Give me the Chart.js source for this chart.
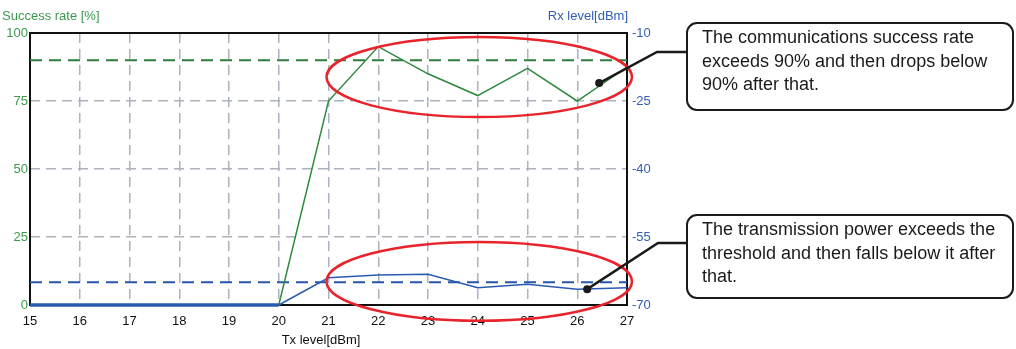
<!DOCTYPE html>
<html><head><meta charset="utf-8">
<script src="https://cdn.jsdelivr.net/npm/chart.js@4"></script>
<style>html,body{margin:0;padding:0;background:#fff;}#wrap{width:1016px;height:349px;}</style>
</head><body><div id="wrap"><canvas id="c" width="1016" height="349"></canvas></div>
<script>
const txLevels = [15,16,17,18,19,20,21,22,23,24,25,26,27];
const successRate = [0,0,0,0,0,0,75,95,85,77,87,75,87.5];
const rxLevel = [-70,-70,-70,-70,-70,-70,-64,-63.4,-63.2,-66.2,-65.4,-66.5,-66.2];
const successTicks = [0,25,50,75,100];
const rxTicks = [-70,-55,-40,-25,-10];
const successThreshold = 90;
const rxThreshold = -65;
const notes = [
  {text:["The communications success rate","exceeds 90% and then drops below","90% after that."], axis:'y', cx:24.03, cy:83.8, rx:3.07, ry:14.7, dotX:26.44, dotY:81.6},
  {text:["The transmission power exceeds the","threshold and then falls below it after","that."], axis:'y1', cx:24.03, cy:-64.8, rx:3.07, ry:8.7, dotX:26.2, dotY:-66.5}
];
const GREEN='#2e8a3e', BLUE='#2a5bb0', GREEN_TXT='#3c9a4c', BLUE_TXT='#3160b4';
const FONT='"Liberation Sans", Arial, sans-serif';

const overlay = {
  id:'overlay',
  beforeDatasetsDraw(chart){
    const {ctx, chartArea:a, scales} = chart;
    ctx.save();
    ctx.lineWidth = 2; ctx.strokeStyle = '#111';
    ctx.strokeRect(a.left, a.top, a.right-a.left, a.bottom-a.top);
    ctx.lineWidth = 2; ctx.setLineDash([12,7]);
    let y = scales.y.getPixelForValue(successThreshold);
    ctx.strokeStyle = '#2f7d3c';
    ctx.beginPath(); ctx.moveTo(a.left, y); ctx.lineTo(a.right, y); ctx.stroke();
    y = scales.y1.getPixelForValue(rxThreshold);
    ctx.strokeStyle = '#2a56a8';
    ctx.beginPath(); ctx.moveTo(a.left, y); ctx.lineTo(a.right, y); ctx.stroke();
    ctx.restore();
  },
  afterDraw(chart){
    const {ctx, chartArea:a, scales} = chart;
    ctx.save();
    ctx.font = '13px '+FONT; ctx.textBaseline='alphabetic';
    ctx.fillStyle = GREEN_TXT; ctx.textAlign='left';
    ctx.fillText('Success rate [%]', 2, 20);
    ctx.fillStyle = BLUE_TXT; ctx.textAlign='right';
    ctx.fillText('Rx level[dBm]', a.right+1, 20);
    ctx.fillStyle = '#111'; ctx.textAlign='center';
    ctx.fillText('Tx level[dBm]', 321, 344);
    const boxes = [{x:687,y:23,w:326,h:87,lineY:52,elbowX:657},{x:687,y:215,w:326,h:83,lineY:243,elbowX:658}];
    notes.forEach((n,i)=>{
      const ys = scales[n.axis];
      const cx = scales.x.getPixelForValue(n.cx), cy = ys.getPixelForValue(n.cy);
      const rx = Math.abs(scales.x.getPixelForValue(n.cx+n.rx)-cx);
      const ry = Math.abs(ys.getPixelForValue(n.cy+n.ry)-cy);
      ctx.strokeStyle = '#e8232b'; ctx.lineWidth = 2.5;
      ctx.beginPath(); ctx.ellipse(cx, cy, rx, ry, 0, 0, Math.PI*2); ctx.stroke();
      const dx = scales.x.getPixelForValue(n.dotX), dy = ys.getPixelForValue(n.dotY);
      const b = boxes[i];
      ctx.strokeStyle = '#1a1a1a'; ctx.lineWidth = 2.5;
      ctx.beginPath(); ctx.moveTo(dx,dy); ctx.lineTo(b.elbowX,b.lineY); ctx.lineTo(b.x,b.lineY); ctx.stroke();
      ctx.fillStyle = '#1a1a1a';
      ctx.beginPath(); ctx.arc(dx,dy,4,0,Math.PI*2); ctx.fill();
      ctx.lineWidth = 2;
      ctx.beginPath(); ctx.roundRect(b.x,b.y,b.w,b.h,10); ctx.fillStyle='#fff'; ctx.fill(); ctx.stroke();
      ctx.fillStyle = '#1a1a1a'; ctx.font = '18px '+FONT; ctx.textAlign='left';
      n.text.forEach((t,k)=>ctx.fillText(t, 702, b.y+20+k*23.5));
    });
    ctx.restore();
  }
};

new Chart(document.getElementById('c'), {
  type:'line',
  data:{
    datasets:[
      {label:'Rx level', yAxisID:'y1', data: txLevels.map((x,i)=>({x, y:rxLevel[i]})),
       borderColor:BLUE, borderWidth:1.5, pointRadius:0, tension:0, clip:6,
       segment:{borderWidth: c => c.p1.parsed.x <= 20 ? 3.5 : 1.5}},
      {label:'Success rate', yAxisID:'y', data: txLevels.map((x,i)=>({x, y:successRate[i]})),
       borderColor:GREEN, borderWidth:1.5, pointRadius:0, tension:0, clip:6}
    ]
  },
  options:{
    responsive:false, animation:false, devicePixelRatio:1,
    layout:{padding:{top:33,left:0,right:0,bottom:0}},
    plugins:{legend:{display:false}, tooltip:{enabled:false}},
    scales:{
      x:{type:'linear', min:15, max:27,
         afterFit(s){s.height=44;},
         afterBuildTicks(s){s.ticks = txLevels.map(v=>({value:v}));},
         ticks:{color:'#111', font:{family:FONT,size:13}, padding:9, maxRotation:0, autoSkip:false},
         grid:{color:'#abb2bd', lineWidth:1.5, drawTicks:false},
         border:{display:false, dash:[10,6]}},
      y:{position:'left', min:0, max:100,
         afterFit(s){s.width=30;},
         afterBuildTicks(s){s.ticks = successTicks.map(v=>({value:v}));},
         ticks:{color:GREEN_TXT, font:{family:FONT,size:13}, padding:2},
         grid:{color:'#abb2bd', lineWidth:1.5, drawTicks:false},
         border:{display:false, dash:[10,6]}},
      y1:{position:'right', min:-70, max:-10,
         afterFit(s){s.width=389;},
         afterBuildTicks(s){s.ticks = rxTicks.map(v=>({value:v}));},
         ticks:{color:BLUE_TXT, font:{family:FONT,size:13}, padding:5},
         grid:{display:false, drawTicks:false},
         border:{display:false}}
    }
  },
  plugins:[overlay]
});
</script></body></html>
